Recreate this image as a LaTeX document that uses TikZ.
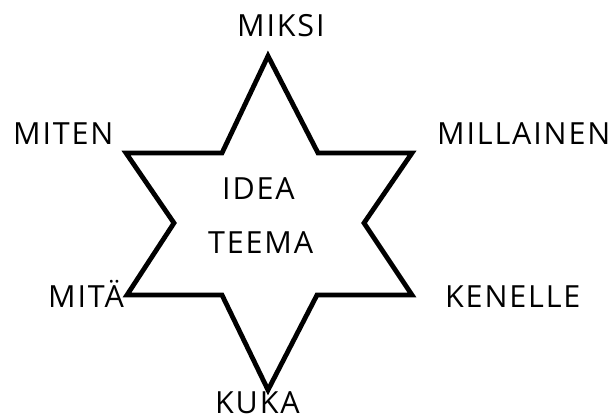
\documentclass[tikz,border=0pt]{standalone}
\usepackage{fontspec}
\newfontfamily\labelfont{Open Sans}[LetterSpace=6.0]
\usetikzlibrary{positioning}

\begin{document}
\begin{tikzpicture}[
    x=1pt, y=-1pt,
    star/.style={draw=black, line width=4.8pt, miter limit=20},
    word/.style={inner sep=0pt, anchor=base west,
                 font=\labelfont\fontsize{30.5}{36}\selectfont}
  ]
  \useasboundingbox (0,0) rectangle (615,414);
  %% Star outline
  \draw[star] (268,56) -- (222,153) -- (126,153) -- (174,223)
    -- (127,295) -- (222,295) -- (268,390) -- (317,295)
    -- (412,295) -- (364,223) -- (412,153) -- (318,153) -- cycle;
  %% Centre words
  \node[word] (idea)  at (222,199) {IDEA};
  \node[word] (teema) at (208,253) {TEEMA};
  %% Question words at the points
  \node[word] (miksi)     at (237,37)  {MIKSI};
  \node[word] (miten)     at (13,145)  {MITEN};
  \node[word] (millainen) at (437,145) {MILLAINEN};
  \node[word] (mita)      at (48,307)  {MITÄ};
  \node[word] (kenelle)   at (445,307) {KENELLE};
  \node[word] (kuka)      at (215,413) {KUKA};
\end{tikzpicture}
\end{document}
